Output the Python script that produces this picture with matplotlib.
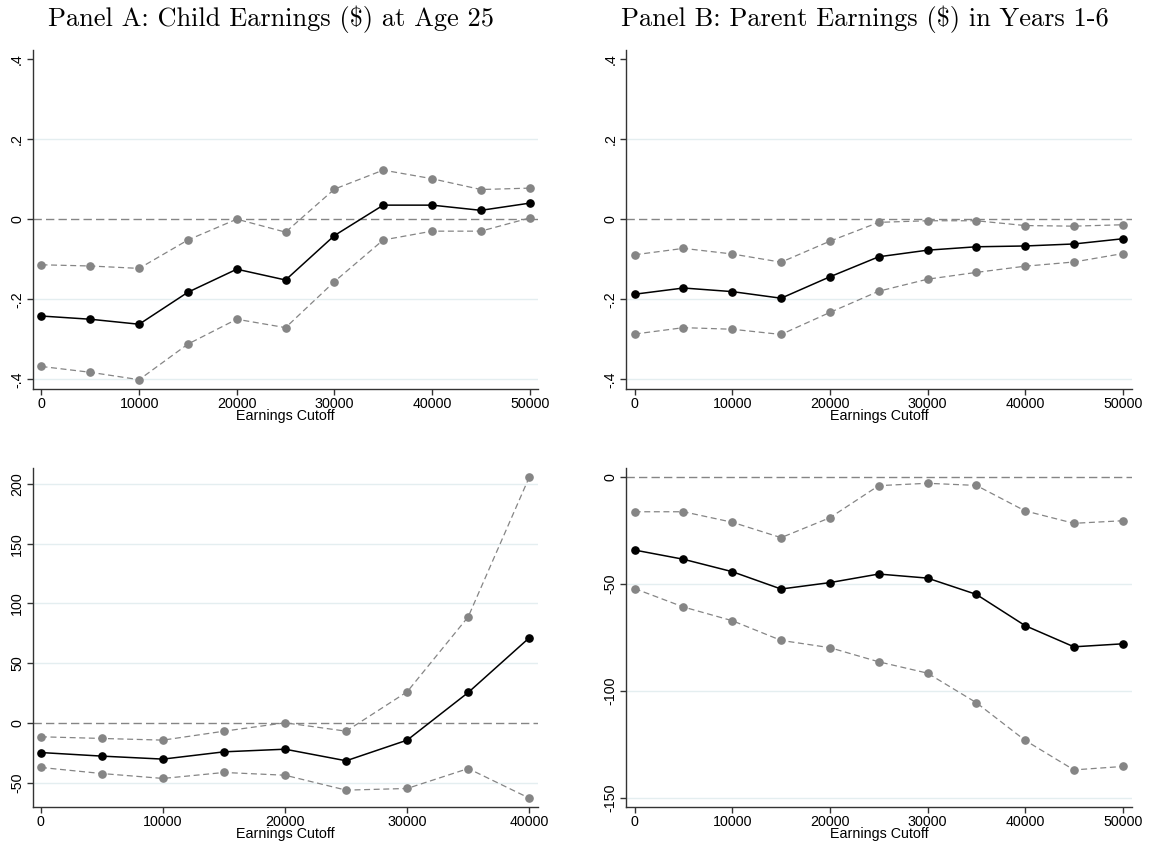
import matplotlib
matplotlib.use("Agg")
import matplotlib.pyplot as plt
from matplotlib.ticker import FixedLocator, FixedFormatter

plt.rcParams['lines.scale_dashes'] = False

# ---------------- data ----------------
cutoffs_50 = [0, 5000, 10000, 15000, 20000, 25000, 30000, 35000, 40000, 45000, 50000]
cutoffs_40 = [0, 5000, 10000, 15000, 20000, 25000, 30000, 35000, 40000]

# Panel A top: Child earnings
a_top_est = [-0.242, -0.250, -0.2625, -0.1825, -0.125, -0.152, -0.041, 0.035, 0.035, 0.022, 0.040]
a_top_hi = [-0.114, -0.117, -0.123, -0.052, 0.000, -0.0325, 0.075, 0.1225, 0.101, 0.074, 0.0775]
a_top_lo = [-0.368, -0.3825, -0.401, -0.312, -0.250, -0.271, -0.156, -0.052, -0.030, -0.030, 0.003]

# Panel B top: Parent earnings
b_top_est = [-0.1875, -0.172, -0.181, -0.1975, -0.144, -0.094, -0.0775, -0.069, -0.067, -0.062, -0.049]
b_top_hi = [-0.089, -0.073, -0.087, -0.1075, -0.055, -0.008, -0.004, -0.004, -0.016, -0.0175, -0.014]
b_top_lo = [-0.287, -0.271, -0.275, -0.288, -0.233, -0.180, -0.150, -0.133, -0.1175, -0.107, -0.086]

# Panel A bottom
a_bot_est = [-24.9, -27.9, -30.4, -24.3, -22.1, -31.8, -14.5, 25.4, 71.2]
a_bot_hi = [-11.7, -13.1, -14.5, -7.0, 0.0, -7.0, 26.0, 88.8, 205.8]
a_bot_lo = [-37.4, -42.5, -46.6, -41.6, -43.9, -56.4, -55.0, -38.3, -63.1]

# Panel B bottom
b_bot_est = [-34.3, -38.6, -44.4, -52.5, -49.5, -45.5, -47.4, -55.0, -69.6, -79.5, -78.1]
b_bot_hi = [-16.4, -16.4, -21.3, -28.5, -19.2, -4.2, -3.1, -4.1, -16.0, -21.8, -20.6]
b_bot_lo = [-52.3, -60.9, -67.3, -76.5, -79.9, -86.5, -91.8, -105.6, -123.2, -137.0, -135.4]

top_yticks = [-0.4, -0.2, 0.0, 0.2, 0.4]
top_ylabels = ['-.4', '-.2', '0', '.2', '.4']
a_bot_yticks = [-50, 0, 50, 100, 150, 200]
a_bot_ylabels = ['-50', '0', '50', '100', '150', '200']
b_bot_yticks = [-150, -100, -50, 0]
b_bot_ylabels = ['-150', '-100', '-50', '0']
xticks_50 = [0, 10000, 20000, 30000, 40000, 50000]
xticks_40 = [0, 10000, 20000, 30000, 40000]

title_a = "Panel A: Child Earnings ($) at Age 25"
title_b = "Panel B: Parent Earnings ($) in Years 1-6"
xlabel = "Earnings Cutoff"

# ---------------- style ----------------
GRAY = '#858585'
GRID = '#e4eef0'
SANS = 'Liberation Sans'

fig = plt.figure(figsize=(11.5, 8.48), dpi=100)
W, H = 1150.0, 848.0


def make_ax(l, r, t, b):
    return fig.add_axes([l / W, 1 - b / H, (r - l) / W, (b - t) / H])


def draw(ax, x, est, hi, lo, xlim, ylim, yticks, ylabels, xticks, grid_ticks):
    for g in grid_ticks:
        ax.axhline(g, color=GRID, lw=1.0, zorder=0)
    ax.axhline(0, color=GRAY, lw=1.0, dashes=(6.0, 3.0), zorder=1)
    ax.plot(x, hi, color=GRAY, lw=0.9, dashes=(4.3, 2.6), marker='o', ms=5.2,
            mfc=GRAY, mec=GRAY, zorder=2)
    ax.plot(x, lo, color=GRAY, lw=0.9, dashes=(4.3, 2.6), marker='o', ms=5.2,
            mfc=GRAY, mec=GRAY, zorder=2)
    ax.plot(x, est, color='black', lw=1.1, marker='o', ms=5.2,
            mfc='black', mec='black', zorder=3)
    ax.set_xlim(*xlim)
    ax.set_ylim(*ylim)
    ax.yaxis.set_major_locator(FixedLocator(yticks))
    ax.yaxis.set_major_formatter(FixedFormatter(ylabels))
    ax.xaxis.set_major_locator(FixedLocator(xticks))
    ax.set_xticklabels([str(v) for v in xticks])
    for s in ['top', 'right']:
        ax.spines[s].set_visible(False)
    for s in ['left', 'bottom']:
        ax.spines[s].set_color('#333333')
        ax.spines[s].set_linewidth(1.0)
    ax.tick_params(axis='both', direction='out', length=4, width=1.0,
                   color='#333333', labelsize=10.3, pad=2)
    for lab in ax.get_yticklabels():
        lab.set_rotation(90)
        lab.set_va('center')
        lab.set_fontfamily(SANS)
    for lab in ax.get_xticklabels():
        lab.set_fontfamily(SANS)
    ax.set_xlabel(xlabel, fontsize=10.3, family=SANS, labelpad=-1.5)


ax1 = make_ax(32.5, 538.3, 50.0, 388.7)
draw(ax1, cutoffs_50, a_top_est, a_top_hi, a_top_lo, (-920, 50880), (-0.4235, 0.4225),
     top_yticks, top_ylabels, xticks_50, [-0.4, -0.2, 0.2])

ax2 = make_ax(625.7, 1132.0, 50.0, 388.7)
draw(ax2, cutoffs_50, b_top_est, b_top_hi, b_top_lo, (-920, 50950), (-0.4235, 0.4225),
     top_yticks, top_ylabels, xticks_50, [-0.4, -0.2, 0.2])

ax3 = make_ax(32.5, 538.3, 468.3, 806.5)
draw(ax3, cutoffs_40, a_bot_est, a_bot_hi, a_bot_lo, (-690, 40740), (-70.1, 213.2),
     a_bot_yticks, a_bot_ylabels, xticks_40, [-50, 50, 100, 150, 200])

ax4 = make_ax(625.7, 1132.0, 468.3, 806.5)
draw(ax4, cutoffs_50, b_bot_est, b_bot_hi, b_bot_lo, (-920, 50950), (-154.1, 3.9),
     b_bot_yticks, b_bot_ylabels, xticks_50, [-150, -100, -50])

fig.text(271 / W, 1 - 19 / H, title_a, ha='center', va='center',
         family='cmr10', fontsize=19)
fig.text(864.5 / W, 1 - 19 / H, title_b, ha='center', va='center',
         family='cmr10', fontsize=19)

fig.savefig('out.png', dpi=100, facecolor='white')
